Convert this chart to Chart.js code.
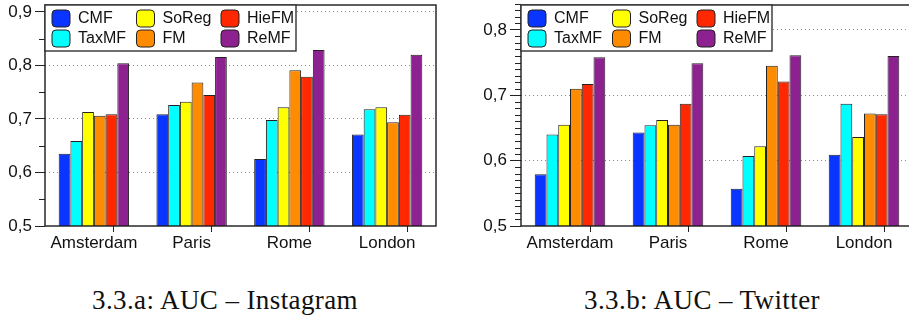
<!DOCTYPE html>
<html>
<head>
<meta charset="utf-8">
<script src="https://cdn.jsdelivr.net/npm/chart.js@4"></script>
<style>
html,body{margin:0;padding:0;background:#fff;}
body{width:909px;height:327px;overflow:hidden;position:relative;}
canvas{position:absolute;top:0;}
#c1{left:0;}
#c2{left:455px;}
.cap{position:absolute;top:287px;font-family:"Liberation Serif",serif;font-size:27px;line-height:27px;color:#111;white-space:nowrap;transform:translateX(-50%);letter-spacing:0.4px;}
</style>
</head>
<body>
<canvas id="c1" width="440" height="260"></canvas>
<canvas id="c2" width="458" height="260"></canvas>
<div class="cap" style="left:225px">3.3.a: AUC – Instagram</div>
<div class="cap" style="left:702px">3.3.b: AUC – Twitter</div>
<script>
const cities=['Amsterdam','Paris','Rome','London'];
const methods=['CMF','TaxMF','SoReg','FM','HieFM','ReMF'];
const colors=['#0a34ff','#00ffff','#ffff00','#ff8c00','#ff2800','#8e2190'];

// AUC – Instagram
const instaCMF=[0.635,0.709,0.625,0.671];
const instaTaxMF=[0.659,0.726,0.698,0.718];
const instaSoReg=[0.713,0.732,0.722,0.722];
const instaFM=[0.706,0.768,0.791,0.694];
const instaHieFM=[0.709,0.745,0.779,0.708];
const instaReMF=[0.804,0.816,0.829,0.820];

// AUC – Twitter
const twCMF=[0.579,0.643,0.557,0.609];
const twTaxMF=[0.640,0.654,0.607,0.687];
const twSoReg=[0.655,0.662,0.622,0.636];
const twFM=[0.710,0.655,0.745,0.672];
const twHieFM=[0.717,0.687,0.721,0.671];
const twReMF=[0.758,0.749,0.761,0.760];

const fontSans='"Liberation Sans", Arial, sans-serif';

const decor={
 id:'decor',
 afterDatasetsDraw(chart,args,opts){
  const ctx=chart.ctx, a=chart.chartArea;
  const y=chart.scales.y, x=chart.scales.x;
  ctx.save();
  // minor ticks on y axis
  ctx.strokeStyle='#222';ctx.lineWidth=1;
  const n=Math.round((y.max-y.min)/opts.minor);
  for(let i=1;i<=n;i++){
   const v=y.min+i*opts.minor;
   if(Math.abs(v*10-Math.round(v*10))<1e-6) continue;
   const py=Math.round(y.getPixelForValue(v))+0.5;
   ctx.beginPath();ctx.moveTo(a.left-6,py);ctx.lineTo(a.left,py);ctx.stroke();
  }
  // x ticks (slightly right of group centre, as in the original)
  const step=(a.right-a.left)/cities.length;
  cities.forEach((c,i)=>{
   const px=Math.round(x.getPixelForValue(i)+0.2*step)+0.5;
   ctx.beginPath();ctx.moveTo(px,a.bottom);ctx.lineTo(px,a.bottom+6);ctx.stroke();
  });
  // frame
  ctx.strokeStyle='#1a1a1a';ctx.lineWidth=1.4;
  ctx.strokeRect(a.left,a.top,a.right-a.left,a.bottom-a.top);
  // legend, 3 columns x 2 rows, filled column by column
  const bx=a.left,by=a.top,bw=251,bh=46;
  ctx.fillStyle='#fff';ctx.fillRect(bx,by,bw,bh);
  ctx.strokeStyle='#333';ctx.lineWidth=1.4;ctx.strokeRect(bx,by,bw,bh);
  ctx.font='16px '+fontSans;ctx.textBaseline='middle';
  chart.data.datasets.forEach((ds,i)=>{
   const col=Math.floor(i/2),row=i%2;
   const sx=bx+7+col*84.5, sy=by+5+row*20;
   ctx.beginPath();ctx.roundRect(sx,sy,18,17,4);
   ctx.fillStyle=ds.backgroundColor;ctx.fill();
   ctx.strokeStyle='#222';ctx.lineWidth=1;ctx.stroke();
   ctx.fillStyle='#111';
   ctx.fillText(ds.label,sx+26,sy+9);
  });
  ctx.restore();
 }
};

function makeChart(id,series,yMax,minor,axisW,tickLen,padRight){
 return new Chart(document.getElementById(id),{
  type:'bar',
  data:{labels:cities,datasets:methods.map((m,i)=>({
   label:m,data:series[i],backgroundColor:colors[i],
   borderColor:'#222',borderWidth:1,
   categoryPercentage:0.72,barPercentage:1
  }))},
  options:{
   responsive:false,animation:false,
   layout:{padding:{top:5,right:padRight,left:0,bottom:0}},
   plugins:{legend:{display:false},tooltip:{enabled:false},decor:{minor}},
   scales:{
    x:{
     grid:{display:false,drawTicks:false},border:{display:false},
     ticks:{color:'#111',padding:7,font:{family:fontSans,size:17}},
     afterFit(s){s.height=34;s.paddingLeft=0;s.paddingRight=0;}
    },
    y:{
     min:0.5,max:yMax,
     grid:{
      color:c=>c.tick&&c.tick.value<=0.5001?'rgba(0,0,0,0)':'#8c8c8c',
      tickColor:'#222',tickLength:tickLen,lineWidth:1
     },
     border:{display:false,dash:[1,3]},
     ticks:{stepSize:0.1,includeBounds:false,padding:3,color:'#111',
      font:{family:fontSans,size:17},
      callback:v=>v.toFixed(1).replace('.',',')},
     afterFit(s){s.width=axisW;s.paddingTop=0;s.paddingBottom=0;}
    }
   }
  },
  plugins:[decor]
 });
}

makeChart('c1',[instaCMF,instaTaxMF,instaSoReg,instaFM,instaHieFM,instaReMF],0.913,0.05,45,10,4);
makeChart('c2',[twCMF,twTaxMF,twSoReg,twFM,twHieFM,twReMF],0.838,0.01,66,11,0);
</script>
</body>
</html>
